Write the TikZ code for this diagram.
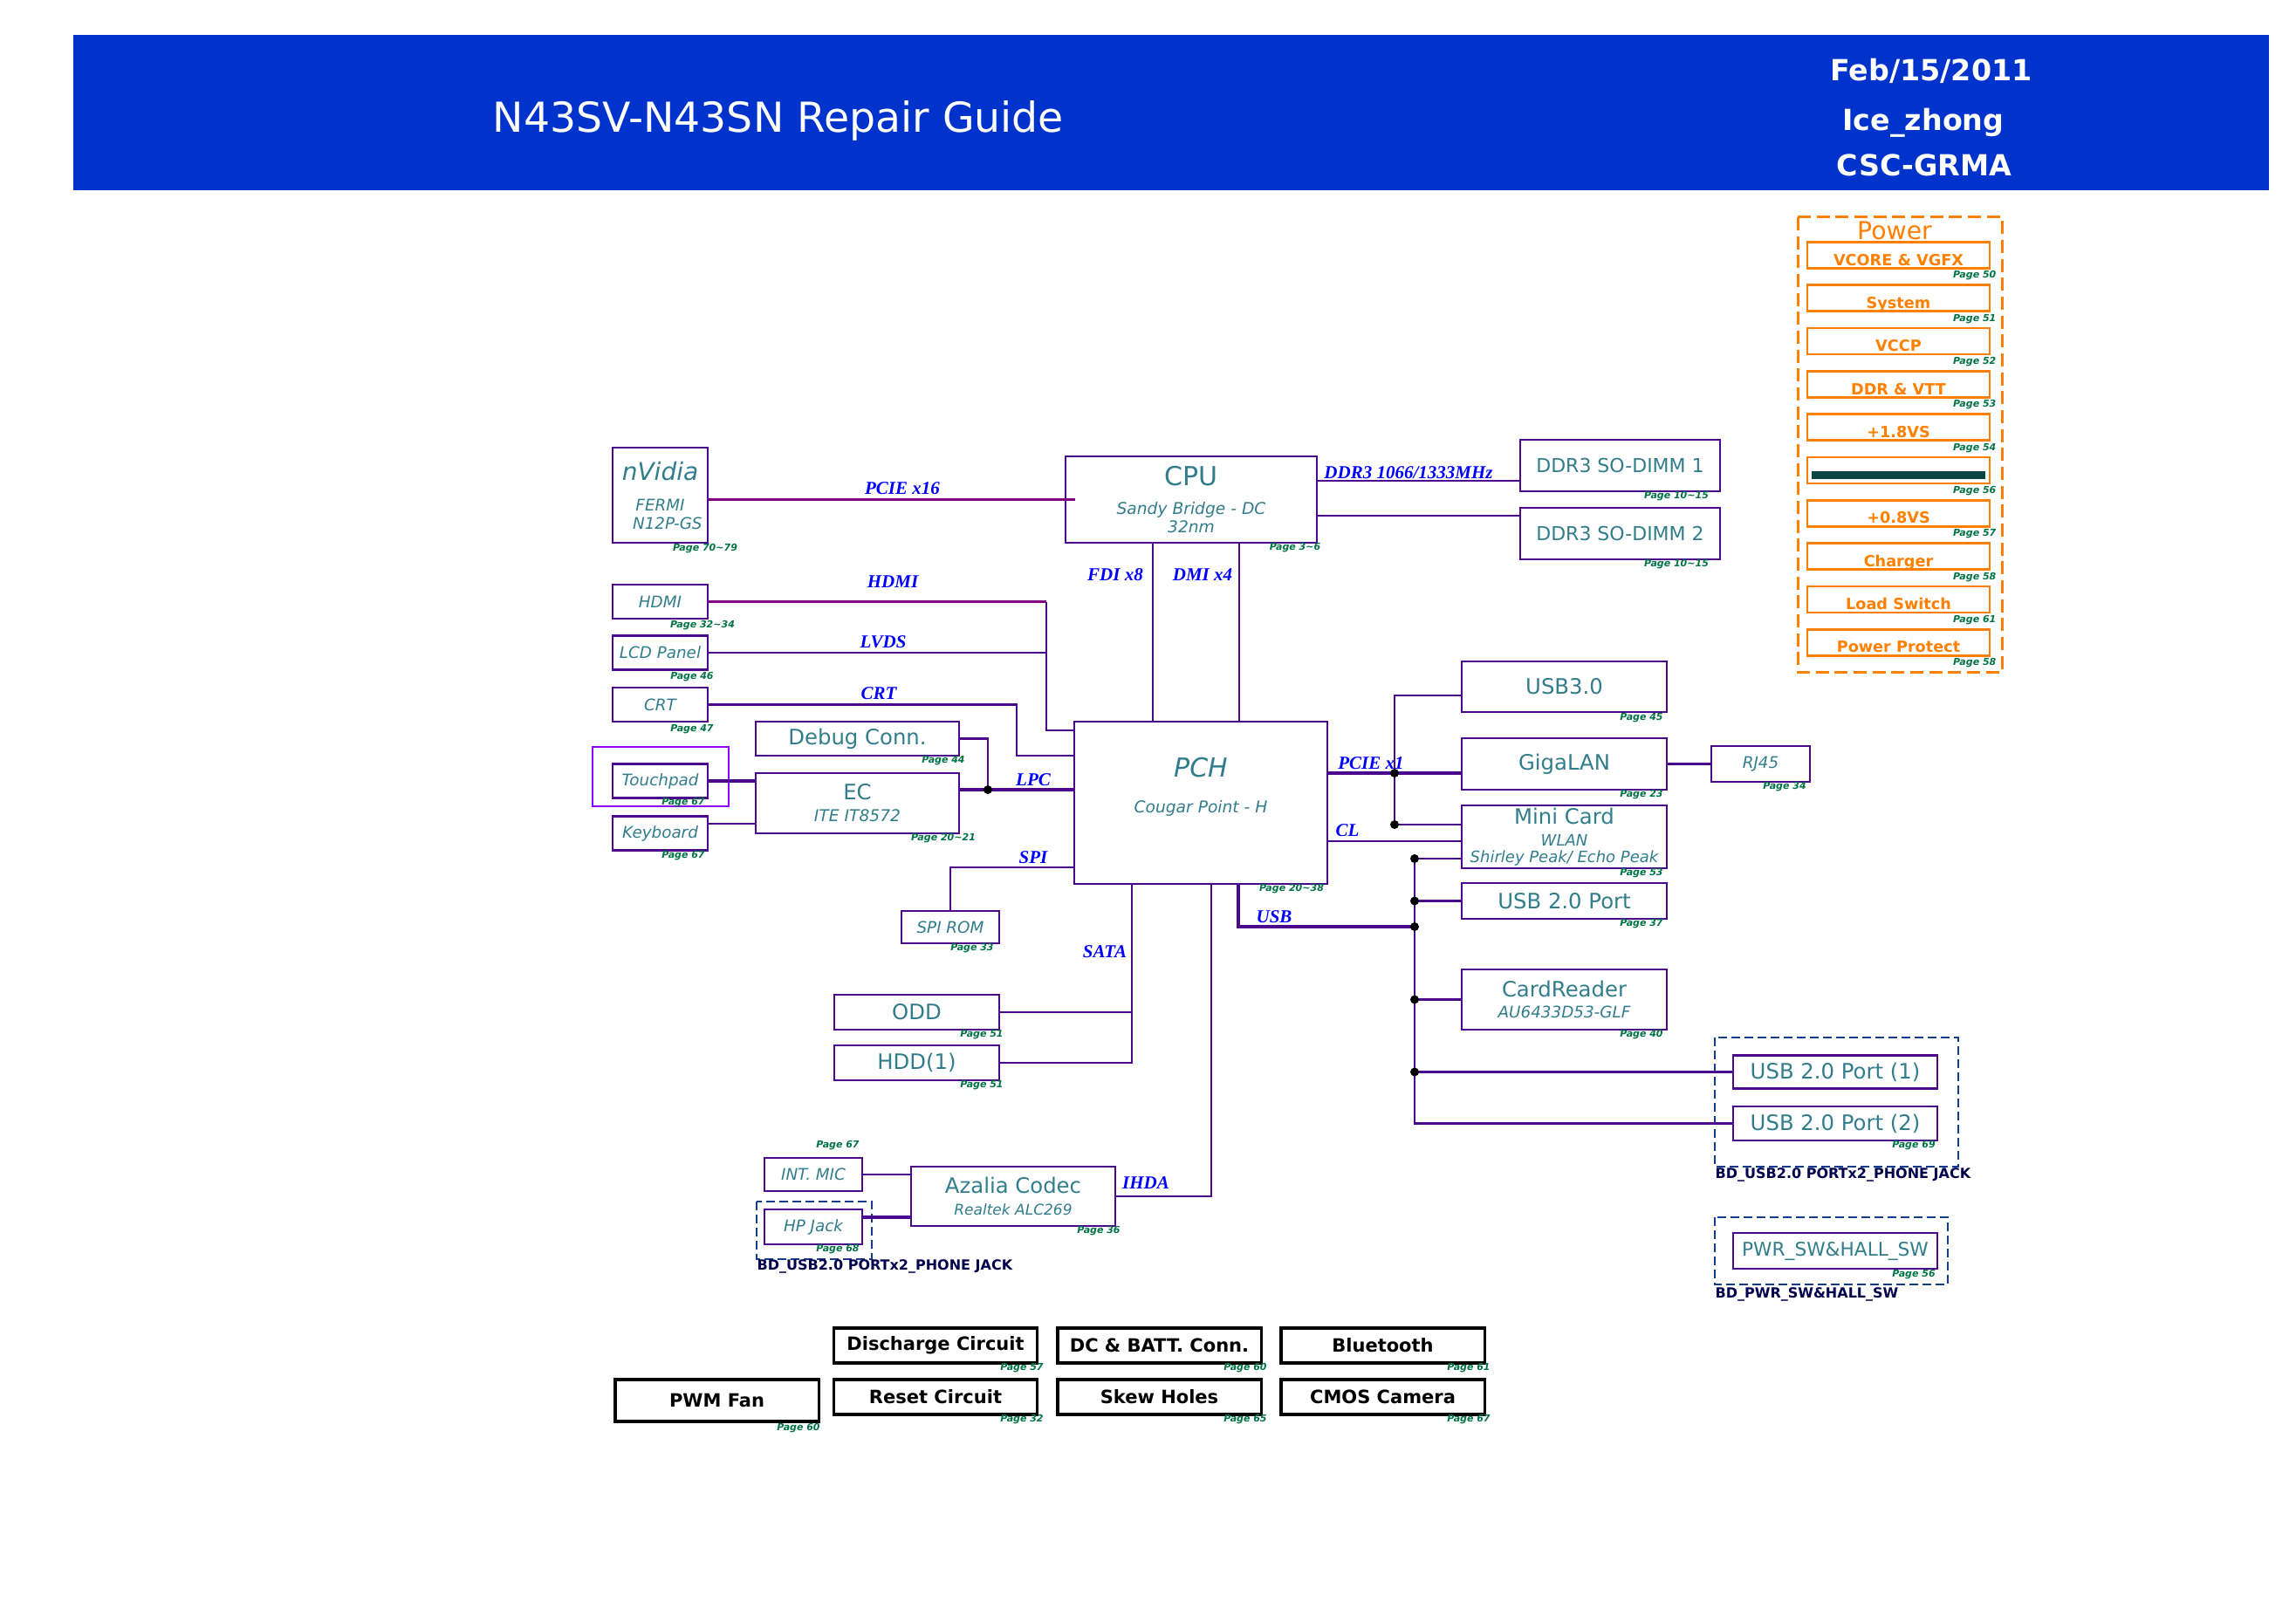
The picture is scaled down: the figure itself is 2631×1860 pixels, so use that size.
\documentclass[tikz,border=0pt]{standalone}
\usepackage{fontspec}
\setmainfont{DejaVu Sans}
\newfontfamily\busfont{Liberation Serif}
\usepackage{tikz}
\usetikzlibrary{positioning,calc}
\definecolor{hdrblue}{RGB}{0,51,204}
\definecolor{wireclr}{RGB}{76,8,140}
\definecolor{pciclr}{RGB}{128,0,128}
\definecolor{txtclr}{RGB}{50,125,140}
\definecolor{pgclr}{RGB}{0,115,70}
\definecolor{busclr}{RGB}{0,0,255}
\definecolor{pwrclr}{RGB}{255,128,0}
\definecolor{grpclr}{RGB}{20,60,140}
\definecolor{tpclr}{RGB}{140,0,255}
\definecolor{barclr}{RGB}{10,70,70}
\tikzset{blk/.style={rectangle, draw=wireclr, line width=0.8pt, inner sep=0pt, outer sep=0pt, align=center, text=txtclr, font=\fontsize{7.3}{8.8}\selectfont},
lbox/.style={blk, minimum width=32.7pt, minimum height=11.7pt, font=\fontsize{5.5}{6.5}\selectfont\itshape},
rbox/.style={blk, minimum width=70.5pt},
subbox/.style={blk, font=\fontsize{5.6}{6.3}\selectfont\itshape},
blkbox/.style={rectangle, draw=black, line width=1pt, inner sep=0pt, minimum width=70pt, minimum height=12pt, font=\fontsize{6.3}{7.5}\selectfont\bfseries},
pwrbox/.style={rectangle, draw=pwrclr, line width=0.8pt, inner sep=0pt, minimum width=62.7pt, minimum height=9pt, text=pwrclr, font=\fontsize{5.3}{6}\selectfont\bfseries, text height=7pt, text depth=0pt},
wire/.style={draw=wireclr, line width=0.8pt},
pciwire/.style={draw=pciclr, line width=0.8pt},
bus/.style={text=busclr, inner sep=0pt, font=\busfont\bfseries\itshape\fontsize{6.3}{7}\selectfont},
pg/.style={text=pgclr, inner sep=0pt, font=\bfseries\itshape\fontsize{3.3}{4}\selectfont},
grp/.style={draw=grpclr, line width=0.8pt, dash pattern=on 3pt off 1.5pt},
grplbl/.style={text=black!70!blue, inner sep=0pt, anchor=west, font=\bfseries\fontsize{4.8}{5.5}\selectfont},
hdr/.style={text=white, inner sep=0pt, anchor=base, font=\bfseries\fontsize{10}{11}\selectfont}}

\begin{document}
\begin{tikzpicture}[x=0.3pt,y=-0.3pt]
	\useasboundingbox (0,0) rectangle (2631,1860);
	\fill[hdrblue] (84,40) rectangle (2600,218);
	\node[text=white, inner sep=0pt, anchor=base, font=\fontsize{14.2}{16}\selectfont] (title) at (892,152) {N43SV-N43SN Repair Guide};
	\node[hdr] (date) at (2213,93) {Feb/15/2011};
	\node[hdr] (author) at (2204,150) {Ice\_zhong};
	\node[hdr] (dept) at (2205,202) {CSC-GRMA};

	\draw[pwrclr, line width=0.9pt, dash pattern=on 4.5pt off 2pt] (2060,249) rectangle (2294,770);
	\node[text=pwrclr, inner sep=0pt, font=\fontsize{8.5}{9}\selectfont] (pwrT) at (2171,264) {Power};
	\foreach \txt/\pnum [count=\i from 0] in {VCORE \& VGFX/50, System/51, VCCP/52, DDR \& VTT/53, +1.8VS/54, /56, +0.8VS/57, Charger/58, Load Switch/61, Power Protect/58}{
		\node[pwrbox] (pw\i) at (2175.5,{292.5+49.3*\i}) {\txt};
		\node[pg, anchor=north east] (pwp\i) at ([xshift=2pt,yshift=-0.4pt]pw\i.south east) {Page \pnum};
	}
	\draw[barclr, line width=2.7pt] ([xshift=2pt,yshift=-1.6pt]pw5.west) -- ([xshift=-2pt,yshift=-1.6pt]pw5.east);

	\node[blk, minimum width=32.7pt, minimum height=32.7pt, font=\fontsize{5.5}{6.2}\selectfont\itshape] (nvidia) at (756.5,567.5) {{\fontsize{8.4}{9}\selectfont nVidia}\\[4.4pt]FERMI\\\hspace*{5pt}N12P-GS};
	\node[subbox, minimum width=86.4pt, minimum height=29.7pt] (cpu) at (1365,572.5) {{\fontsize{9}{9}\selectfont\upshape CPU}\\[3.6pt]Sandy Bridge - DC\\32nm};
	\node[blk, minimum width=68.7pt, minimum height=17.7pt, font=\fontsize{6.6}{8}\selectfont] (dimmA) at (1856.5,533.5) {DDR3 SO-DIMM 1};
	\node[blk, minimum width=68.7pt, minimum height=17.7pt, font=\fontsize{6.6}{8}\selectfont] (dimmB) at (1856.5,611.5) {DDR3 SO-DIMM 2};
	\node[lbox] (hdmi) at (756.5,689.5) {HDMI};
	\node[lbox] (lcd) at (756.5,748) {LCD Panel};
	\node[lbox] (crt) at (756.5,807.5) {CRT};
	\node[subbox, minimum width=87pt, minimum height=55.8pt, text depth=12pt] (pch) at (1376,920) {{\fontsize{9}{9}\selectfont PCH}\\[6pt]Cougar Point - H};
	\node[blk, minimum width=69.9pt, minimum height=11.7pt] (debug) at (982.5,846.5) {Debug Conn.};
	\node[subbox, minimum width=69.9pt, minimum height=20.7pt] (ec) at (982.5,920.5) {{\fontsize{7.3}{8}\selectfont\upshape EC}\\[1.2pt]ITE IT8572};
	\draw[tpclr, line width=0.8pt] (679,856) rectangle (835,924);
	\node[lbox] (touchpad) at (756.5,895) {Touchpad};
	\node[lbox] (keyboard) at (756.5,955) {Keyboard};
	\node[lbox, minimum width=33.6pt, minimum height=11.1pt] (spirom) at (1089,1062.5) {SPI ROM};
	\node[blk, minimum width=56.7pt, minimum height=12pt] (odd) at (1050.5,1160) {ODD};
	\node[blk, minimum width=56.7pt, minimum height=12pt] (hdd) at (1050.5,1218) {HDD(1)};

	\node[rbox, minimum height=17.4pt] (usb3) at (1792.5,787) {USB3.0};
	\node[rbox, minimum height=17.7pt] (lan) at (1792.5,875.5) {GigaLAN};
	\node[lbox, minimum width=33.9pt, minimum height=12.3pt] (rj45) at (2017.5,875.5) {RJ45};
	\node[rbox, minimum height=21.6pt, font=\fontsize{5.4}{5.8}\selectfont\itshape] (minicard) at (1792.5,959) {{\fontsize{7.3}{8}\selectfont\upshape Mini Card}\\[1.6pt]WLAN\\Shirley Peak/ Echo Peak};
	\node[rbox, minimum height=12.3pt] (usbport) at (1792.5,1032.5) {USB 2.0 Port};
	\node[rbox, minimum height=20.7pt, font=\fontsize{5.5}{6.3}\selectfont\itshape] (cardrd) at (1792.5,1145.5) {{\fontsize{7.3}{8}\selectfont\upshape CardReader}\\[1pt]AU6433D53-GLF};
	\draw[grp] (1965,1189) rectangle (2244,1337);
	\node[blk, minimum width=70.2pt, minimum height=11.4pt] (usbA) at (2103,1228.5) {USB 2.0 Port (1)};
	\node[blk, minimum width=70.2pt, minimum height=11.7pt] (usbB) at (2103,1287.5) {USB 2.0 Port (2)};
	\node[grplbl] (usbGrp) at (1965,1346) {BD\_USB2.0 PORTx2\_PHONE JACK};
	\draw[grp] (1965,1395) rectangle (2232,1472);
	\node[blk, minimum width=70.2pt, minimum height=12.3pt, font=\fontsize{6.5}{7.5}\selectfont] (pwrsw) at (2103,1433.5) {PWR\_SW\&HALL\_SW};
	\node[grplbl] (pwrGrp) at (1965,1483) {BD\_PWR\_SW\&HALL\_SW};

	\node[lbox, minimum width=33.6pt, minimum height=11.4pt] (intmic) at (932,1346) {INT. MIC};
	\node[subbox, minimum width=70.2pt, minimum height=20.4pt, font=\fontsize{5.1}{6}\selectfont\itshape] (azalia) at (1161,1371) {{\fontsize{7.3}{8}\selectfont\upshape Azalia Codec}\\[1.6pt]Realtek ALC269};
	\draw[grp] (867,1377) rectangle (999,1443);
	\node[lbox, minimum width=33.6pt, minimum height=12pt] (hpjack) at (932,1406) {HP Jack};
	\node[grplbl] (hpGrp) at (867,1451) {BD\_USB2.0 PORTx2\_PHONE JACK};

	\node[blkbox] (discharge) at (1072,1542) {Discharge Circuit};
	\node[blkbox] (dcbatt) at (1328.5,1542) {DC \& BATT. Conn.};
	\node[blkbox] (bluetooth) at (1584.5,1542) {Bluetooth};
	\node[blkbox, minimum height=14.4pt] (pwmfan) at (821.5,1605) {PWM Fan};
	\node[blkbox] (reset) at (1072,1601) {Reset Circuit};
	\node[blkbox] (skew) at (1328.5,1601) {Skew Holes};
	\node[blkbox] (cmos) at (1584.5,1601) {CMOS Camera};

	\draw[pciwire] (nvidia.east |- cpu.west) -- ([xshift=3.3pt]cpu.west);
	\coordinate (ddrA) at ([yshift=-5.25pt]dimmA.west);
	\draw[wire] (cpu.east |- ddrA) -- (ddrA);
	\coordinate (ddrB) at ([yshift=6.15pt]dimmB.west);
	\draw[wire] (cpu.east |- ddrB) -- (ddrB);
	\coordinate (fdi) at ([xshift=-13.2pt]cpu.south);
	\draw[wire] (fdi) -- (fdi |- pch.north);
	\coordinate (dmi) at ([xshift=16.5pt]cpu.south);
	\draw[wire] (dmi) -- (dmi |- pch.north);
	\coordinate (hdmiK) at (1199,837);
	\draw[pciwire] (hdmi.east) -- (hdmi.east -| hdmiK);
	\draw[wire] (hdmi.east -| hdmiK) -- (hdmiK) -- (hdmiK -| pch.west);
	\draw[wire] (lcd.east) -- (lcd.east -| hdmiK);
	\coordinate (crtK) at (1165,866);
	\draw[wire] (crt.east) -| (crtK) -- (crtK -| pch.west);
	\coordinate (lpcJ) at (1132,905);
	\draw[wire] (debug.east) -| (lpcJ);
	\draw[wire, line width=1.1pt] (ec.east |- lpcJ) -- (lpcJ -| pch.west);
	\draw[wire, line width=1.1pt] (touchpad.east) -- (touchpad.east -| ec.west);
	\coordinate (kbd) at ([yshift=3.3pt]keyboard.east);
	\draw[wire] (kbd) -- (kbd -| ec.west);
	\coordinate (spi) at ([yshift=-22.2pt]pch.west);
	\draw[wire] (spirom.north) |- (spi);
	\coordinate (sata) at ([xshift=-23.7pt]pch.south);
	\draw[wire] (sata) |- (hdd.east);
	\draw[wire] (odd.east) -- (odd.east -| sata);
	\coordinate (hda) at ([xshift=3.6pt]pch.south);
	\draw[wire] (hda) |- (azalia.east);
	\coordinate (usbS) at ([xshift=12.9pt]pch.south);
	\coordinate (usbJ) at (1621,1062);
	\draw[wire, line width=1.1pt] (usbS) |- (usbJ);
	\coordinate (ubus) at (1621,984);
	\draw[wire] (ubus) |- (usbB.west);
	\draw[wire] (ubus) -- (ubus -| minicard.west);
	\draw[wire] (usbport.west) -- (usbport.west -| ubus);
	\draw[wire] (cardrd.west) -- (cardrd.west -| ubus);
	\draw[wire] (usbA.west) -- (usbA.west -| ubus);
	\coordinate (pcieJ) at (1598,886);
	\coordinate (mcJ) at (1598,945);
	\draw[wire, line width=1.1pt] (pcieJ -| pch.east) -- (pcieJ -| lan.west);
	\coordinate (u3) at ([yshift=-3pt]usb3.west);
	\draw[wire] (u3) -| (mcJ) -- (mcJ -| minicard.west);
	\coordinate (cl) at ([yshift=-1.5pt]minicard.west);
	\draw[wire] (cl -| pch.east) -- (cl);
	\draw[wire] (lan.east) -- (rj45.west);
	\draw[wire] (intmic.east) -- (intmic.east -| azalia.west);
	\coordinate (hp) at ([yshift=3.3pt]hpjack.east);
	\draw[wire, line width=1.2pt] (hp) -- (hp -| azalia.west);
	\foreach \p in {lpcJ,pcieJ,mcJ,ubus,usbJ} \fill (\p) circle (1.5pt);
	\fill (usbport.west -| ubus) circle (1.5pt);
	\fill (cardrd.west -| ubus) circle (1.5pt);
	\fill (usbA.west -| ubus) circle (1.5pt);

	\node[bus] (bPCIE) at (1034,560) {PCIE x16};
	\node[bus] (bDDR) at (1614,542) {DDR3 1066/1333MHz};
	\node[bus] (bHDMI) at (1023,667) {HDMI};
	\node[bus] (bLVDS) at (1012,736) {LVDS};
	\node[bus] (bCRT) at (1007,795) {CRT};
	\node[bus] (bFDI) at (1278,659) {FDI x8};
	\node[bus] (bDMI) at (1378,659) {DMI x4};
	\node[bus] (bLPC) at (1184,894) {LPC};
	\node[bus] (bSPI) at (1184,983) {SPI};
	\node[bus] (bSATA) at (1266,1091) {SATA};
	\node[bus] (bUSB) at (1460,1051) {USB};
	\node[bus] (bPCIEx) at (1571,875) {PCIE x1};
	\node[bus] (bCL) at (1544,952) {CL};
	\node[bus] (bHDA) at (1313,1356) {IHDA};

	\node[pg] (pNv) at (808,629) {Page 70\textasciitilde79};
	\node[pg] (pCpu) at (1484,628) {Page 3\textasciitilde6};
	\node[pg] (pDimmA) at (1921,569) {Page 10\textasciitilde15};
	\node[pg] (pDimmB) at (1921,647) {Page 10\textasciitilde15};
	\node[pg] (pHdmi) at (805,717) {Page 32\textasciitilde34};
	\node[pg] (pLcd) at (793,776) {Page 46};
	\node[pg] (pCrt) at (793,836) {Page 47};
	\node[pg] (pDebug) at (1081,872) {Page 44};
	\node[pg] (pEc) at (1081,961) {Page 20\textasciitilde21};
	\node[pg] (pTp) at (783,920) {Page 67};
	\node[pg] (pKbd) at (783,981) {Page 67};
	\node[pg] (pPch) at (1480,1019) {Page 20\textasciitilde38};
	\node[pg] (pSpi) at (1114,1087) {Page 33};
	\node[pg] (pOdd) at (1125,1186) {Page 51};
	\node[pg] (pHdd) at (1125,1244) {Page 51};
	\node[pg] (pUsb3) at (1881,823) {Page 45};
	\node[pg] (pLan) at (1881,911) {Page 23};
	\node[pg] (pRj) at (2045,902) {Page 34};
	\node[pg] (pMc) at (1881,1001) {Page 53};
	\node[pg] (pUsbp) at (1881,1059) {Page 37};
	\node[pg] (pCard) at (1881,1186) {Page 40};
	\node[pg] (pUsbB) at (2193,1313) {Page 69};
	\node[pg] (pPwrsw) at (2193,1461) {Page 56};
	\node[pg] (pMic) at (960,1313) {Page 67};
	\node[pg] (pAza) at (1259,1411) {Page 36};
	\node[pg] (pHp) at (960,1432) {Page 68};
	\node[pg] (pDis) at (1171,1568) {Page 57};
	\node[pg] (pDc) at (1427,1568) {Page 60};
	\node[pg] (pBt) at (1683,1568) {Page 61};
	\node[pg] (pFan) at (915,1637) {Page 60};
	\node[pg] (pReset) at (1171,1627) {Page 32};
	\node[pg] (pSkew) at (1427,1627) {Page 65};
	\node[pg] (pCmos) at (1683,1627) {Page 67};
\end{tikzpicture}
\end{document}
